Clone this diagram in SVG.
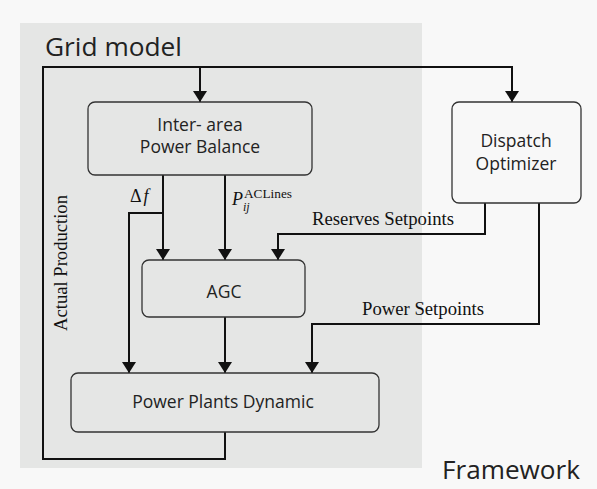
<svg xmlns="http://www.w3.org/2000/svg" width="597" height="489" viewBox="0 0 597 489">
<defs>
<marker id="ah" markerUnits="userSpaceOnUse" markerWidth="12" markerHeight="15" refX="11" refY="7" orient="auto">
<path d="M0,0 L11,7 L0,14 Z" fill="#111"/>
</marker>
<style>
.box{fill:none;stroke:#333;stroke-width:1.3}
.ln{fill:none;stroke:#111;stroke-width:2}
.arr{marker-end:url(#ah)}
.sans{font-family:"Open Sans","Noto Sans",sans-serif;fill:#222}
.lbl{font-family:"Open Sans","Noto Sans",sans-serif;font-size:17.5px;fill:#222;text-anchor:middle}
.ser{font-family:"Liberation Serif","Times New Roman",serif;fill:#111}
</style>
</defs>
<rect x="0" y="0" width="597" height="489" fill="#f8f8f8"/>
<rect id="grid-panel" x="20" y="23" width="402" height="445" fill="#e5e6e5"/>
<text class="sans" x="45" y="56" font-size="25" textLength="137" lengthAdjust="spacingAndGlyphs">Grid model</text>
<text class="sans" x="442" y="479" font-size="25" textLength="138" lengthAdjust="spacingAndGlyphs">Framework</text>

<g id="connectors">
<path class="ln arr" d="M225,432 V459 H43 V67 H512 V102"/>
<path class="ln arr" d="M200,67 V102"/>
<path class="ln arr" d="M163,175 V260"/>
<path class="ln arr" d="M163,213 H129 V373"/>
<path class="ln arr" d="M225,175 V260"/>
<path class="ln arr" d="M485,203 V234 H278 V260"/>
<path class="ln arr" d="M225,317 V373"/>
<path class="ln arr" d="M539,203 V324 H312 V373"/>
<text class="ser" x="130" y="202" font-size="18">Δ<tspan font-style="italic" dx="2">f</tspan></text>
<text class="ser" x="232" y="205" font-size="18" font-style="italic">P</text>
<text class="ser" x="243" y="211" font-size="12" font-style="italic">ij</text>
<text class="ser" x="244" y="198" font-size="13" textLength="48" lengthAdjust="spacingAndGlyphs">ACLines</text>
<text class="ser" x="312" y="225" font-size="18" textLength="142" lengthAdjust="spacingAndGlyphs">Reserves  Setpoints</text>
<text class="ser" x="362" y="315" font-size="18" textLength="122" lengthAdjust="spacingAndGlyphs">Power  Setpoints</text>
<text class="ser" transform="translate(67,331) rotate(-90)" font-size="18" textLength="136" lengthAdjust="spacingAndGlyphs">Actual  Production</text>
</g>

<g id="inter-area">
<rect class="box" x="88" y="102" width="224" height="73" rx="7"/>
<text class="lbl" x="200" y="131">Inter- area</text>
<text class="lbl" x="200" y="153">Power Balance</text>
</g>
<g id="dispatch">
<rect class="box" x="452" y="102" width="129" height="101" rx="7"/>
<text class="lbl" x="516" y="147">Dispatch</text>
<text class="lbl" x="516" y="170">Optimizer</text>
</g>
<g id="agc">
<rect class="box" x="142" y="260" width="163" height="57" rx="7"/>
<text class="lbl" x="224" y="298">AGC</text>
</g>
<g id="power-plants">
<rect class="box" x="71" y="373" width="308" height="59" rx="7"/>
<text class="lbl" x="223" y="408">Power Plants Dynamic</text>
</g>
</svg>
